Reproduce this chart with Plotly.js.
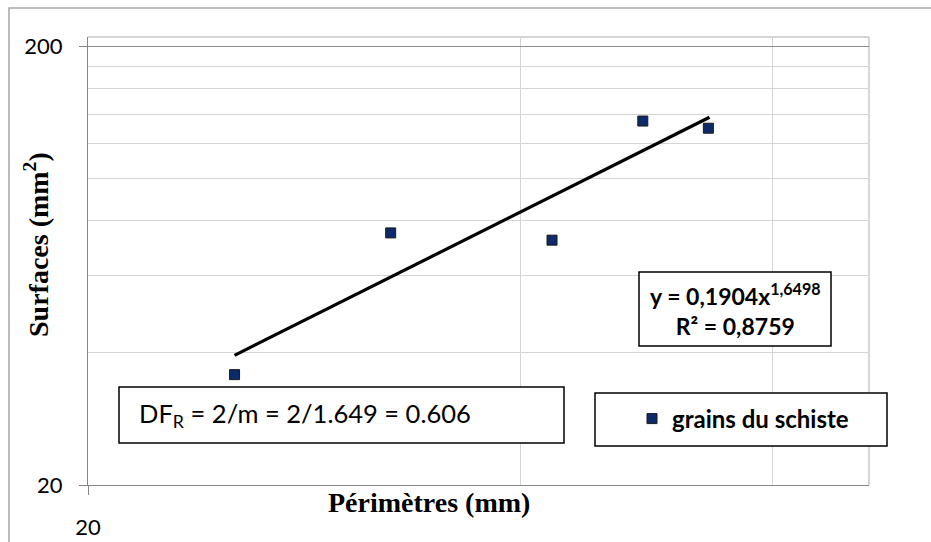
<!DOCTYPE html>
<html>
<head>
<meta charset="utf-8">
<script src="https://cdn.plot.ly/plotly-3.0.1.min.js"></script>
<style>html,body{margin:0;padding:0;background:#fff;}#chart{width:931px;height:542px;}</style>
</head>
<body>
<div id="chart"></div>
<script>
// ---- data ----
var perimetres = [25.3, 32.5, 42.1, 48.7, 54.1];
var surfaces   = [35.7, 75.1, 72.3, 135.1, 130.1];
var trendX = [25.3, 54.2];
var trendY = [39.5, 137.8];
var seriesName = 'grains du schiste';
var yMajor = [20, 200];
var yMinor = [40, 60, 80, 100, 120, 140, 160, 180];
var xMajor = [20];
var xMinor = [40, 60];
var equationText = '<b>y = 0,1904x<sup>1,6498</sup></b><br><b>R² = 0,8759</b>';
var dfText = 'DF<sub>R</sub> = 2/m = 2/1.649 = 0.606';

// ---- layout helpers (pixel -> paper) ----
var W = 931, H = 542, L = 88, R = 62, T = 37, B = 57;
var pw = W - L - R, ph = H - T - B;
function px(x){ return (x - L) / pw; }
function py(y){ return (H - B - y) / ph; }
function box(x0, y0, x1, y1, color, width){
  return {type:'rect', xref:'paper', yref:'paper', x0:px(x0), x1:px(x1), y0:py(y1), y1:py(y0),
          line:{color:color, width:width}, fillcolor:'rgba(255,255,255,1)', layer:'above'};
}
var sans = 'Lato, "Open Sans", sans-serif';
var serif = '"Liberation Serif", "DejaVu Serif", serif';

var traces = [
  {x: trendX, y: trendY, mode:'lines', line:{color:'#000', width:3.2}, showlegend:false, hoverinfo:'skip'},
  {x: perimetres, y: surfaces, mode:'markers', name: seriesName,
   marker:{symbol:'square', size:10, color:'#0d2a6b', line:{color:'#1a1a1a', width:1}}}
];

var layout = {
  width: W, height: H,
  margin:{l:L, r:R, t:T, b:B, pad:0},
  paper_bgcolor:'#fff', plot_bgcolor:'#fff',
  showlegend:true,
  legend:{x:px(632), y:py(419), xanchor:'left', yanchor:'middle', bgcolor:'rgba(0,0,0,0)',
          borderwidth:0, font:{family:sans, size:24, color:'#000', weight:'bold'}, itemwidth:30},
  xaxis:{type:'log', range:[Math.log10(20), Math.log10(70)],
         tickmode:'array', tickvals:xMajor, ticktext:xMajor.map(String),
         ticks:'outside', ticklen:9, tickcolor:'#868686', tickwidth:1,
         ticklabelstandoff:14,
         showgrid:false, zeroline:false,
         showline:true, linecolor:'#868686', linewidth:1,
         tickfont:{family:sans, size:22, color:'#000'},
         minor:{tickmode:'array', tickvals:xMinor, showgrid:true, gridcolor:'#d4d4d4', gridwidth:1, ticks:''}},
  yaxis:{type:'log', range:[Math.log10(20), Math.log10(210)],
         tickmode:'array', tickvals:yMajor, ticktext:yMajor.map(String),
         ticks:'outside', ticklen:8, tickcolor:'#868686', tickwidth:1,
         ticklabelstandoff:12,
         showgrid:true, gridcolor:'#8c8c8c', gridwidth:1, zeroline:false,
         showline:true, linecolor:'#868686', linewidth:1,
         tickfont:{family:sans, size:22, color:'#000'},
         minor:{tickmode:'array', tickvals:yMinor, showgrid:true, gridcolor:'#d4d4d4', gridwidth:1, ticks:''}},
  shapes:[
    // outer chart border
    {type:'rect', xref:'paper', yref:'paper', x0:px(9), x1:px(960), y0:py(570), y1:py(8),
     line:{color:'#a6a6a6', width:1.5}, fillcolor:'rgba(0,0,0,0)', layer:'below'},
    // plot area top/right border
    {type:'line', xref:'paper', yref:'paper', x0:0, x1:1, y0:1, y1:1, line:{color:'#c8c8c8', width:1.5}, layer:'below'},
    {type:'line', xref:'paper', yref:'paper', x0:1, x1:1, y0:0, y1:1, line:{color:'#c8c8c8', width:1.5}, layer:'below'},
    box(119, 387, 564, 443, '#000', 1.5),
    box(639, 272, 831, 346, '#000', 1.5),
    box(595, 393, 887, 446, '#000', 1.5)
  ],
  annotations:[
    {xref:'paper', yref:'paper', x:px(305), y:py(415), text:dfText, showarrow:false,
     xanchor:'center', yanchor:'middle', font:{family:sans, size:25.5, color:'#000'}},
    {xref:'paper', yref:'paper', x:px(735), y:py(309), text:equationText, showarrow:false,
     xanchor:'center', yanchor:'middle', align:'center', font:{family:sans, size:23, color:'#000'}},
    {xref:'paper', yref:'paper', x:px(429), y:py(502), text:'<b>Périmètres (mm)</b>', showarrow:false,
     xanchor:'center', yanchor:'middle', font:{family:serif, size:28, color:'#000'}},
    {xref:'paper', yref:'paper', x:px(36), y:py(245), text:'<b>Surfaces (mm<sup>2</sup>)</b>', showarrow:false,
     textangle:-90, xanchor:'center', yanchor:'middle', font:{family:serif, size:28, color:'#000'}}
  ]
};

Plotly.newPlot('chart', traces, layout, {displayModeBar:false, staticPlot:true});
</script>
</body>
</html>
